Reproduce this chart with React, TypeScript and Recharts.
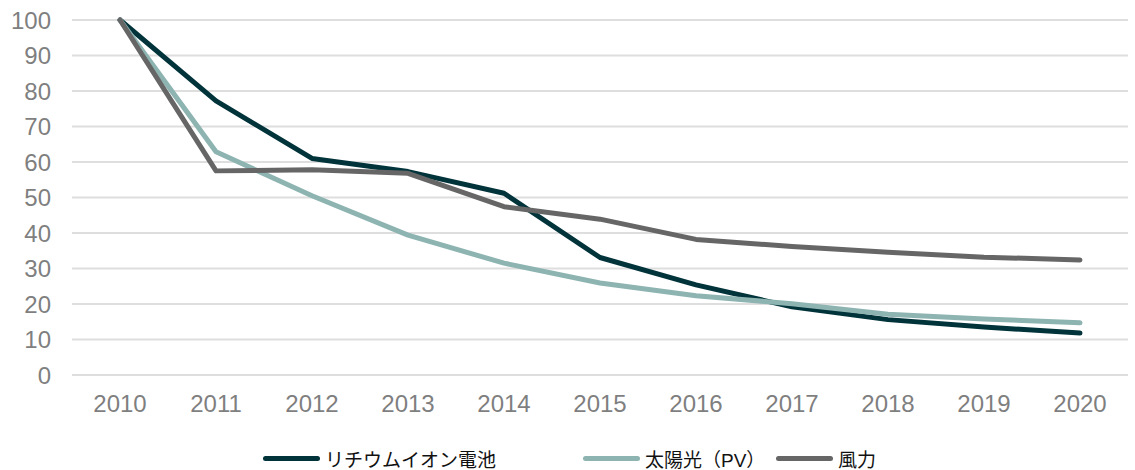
import React from "react";
import {
  LineChart,
  Line,
  XAxis,
  YAxis,
  CartesianGrid,
  Legend,
} from "recharts";

const years = ["2010", "2011", "2012", "2013", "2014", "2015", "2016", "2017", "2018", "2019", "2020"];
const lithium = [100, 77.2, 61, 57.3, 51.2, 33.1, 25.4, 19.2, 15.6, 13.5, 11.8];
const solar = [100, 62.9, 50.5, 39.4, 31.5, 25.9, 22.3, 20.1, 17.1, 15.8, 14.7];
const wind = [100, 57.5, 57.8, 56.8, 47.4, 43.9, 38.2, 36.2, 34.6, 33.2, 32.4];
const yTicks = [0, 10, 20, 30, 40, 50, 60, 70, 80, 90, 100];

const seriesNames = ["リチウムイオン電池", "太陽光（PV）", "風力"];
const seriesColors = ["#00333a", "#8db4b1", "#666666"];

const chartData = years.map((year, i) => ({
  year,
  lithium: lithium[i],
  solar: solar[i],
  wind: wind[i],
}));

const FONT = "'Liberation Sans', Arial, 'Noto Sans CJK JP', sans-serif";

// legend item offsets, Excel-style spacing
const legendPos = [263, 583, 776];

function ChartLegend() {
  return (
    <div style={{ position: "relative", width: 1135, height: 24 }}>
      {seriesNames.map((name, i) => (
        <div
          key={name}
          style={{
            position: "absolute",
            left: legendPos[i],
            top: 0,
            height: 24,
            display: "flex",
            alignItems: "center",
            fontFamily: FONT,
            fontSize: 19,
            color: "#111",
            whiteSpace: "nowrap",
          }}
        >
          <span
            style={{
              display: "inline-block",
              width: 57,
              height: 5,
              borderRadius: 3,
              background: seriesColors[i],
              marginRight: 5,
            }}
          />
          {name}
        </div>
      ))}
    </div>
  );
}

export default function App() {
  return (
    <div style={{ position: "absolute", left: 0, top: 0, background: "#fff" }}>
      <LineChart
        width={1135}
        height={470}
        data={chartData}
        margin={{ top: 20, right: 7, left: 0, bottom: 0 }}
      >
        <CartesianGrid vertical={false} stroke="#dedede" strokeWidth={2} />
        <XAxis
          dataKey="year"
          scale="band"
          axisLine={false}
          tickLine={false}
          height={71}
          tickMargin={14}
          interval={0}
          tick={{ fontSize: 24, fill: "#7f7f7f", fontFamily: FONT }}
        />
        <YAxis
          domain={[0, 100]}
          ticks={yTicks}
          width={72}
          axisLine={false}
          tickLine={false}
          tickMargin={15}
          interval={0}
          tick={{ fontSize: 24, fill: "#7f7f7f", fontFamily: FONT }}
        />
        <Legend
          verticalAlign="bottom"
          content={() => <ChartLegend />}
          wrapperStyle={{ left: 0, bottom: 0, width: 1135 }}
        />
        <Line
          dataKey="lithium"
          name={seriesNames[0]}
          stroke={seriesColors[0]}
          strokeWidth={5}
          dot={false}
          strokeLinecap="round"
          strokeLinejoin="round"
          isAnimationActive={false}
        />
        <Line
          dataKey="solar"
          name={seriesNames[1]}
          stroke={seriesColors[1]}
          strokeWidth={5}
          dot={false}
          strokeLinecap="round"
          strokeLinejoin="round"
          isAnimationActive={false}
        />
        <Line
          dataKey="wind"
          name={seriesNames[2]}
          stroke={seriesColors[2]}
          strokeWidth={5}
          dot={false}
          strokeLinecap="round"
          strokeLinejoin="round"
          isAnimationActive={false}
        />
      </LineChart>
    </div>
  );
}
